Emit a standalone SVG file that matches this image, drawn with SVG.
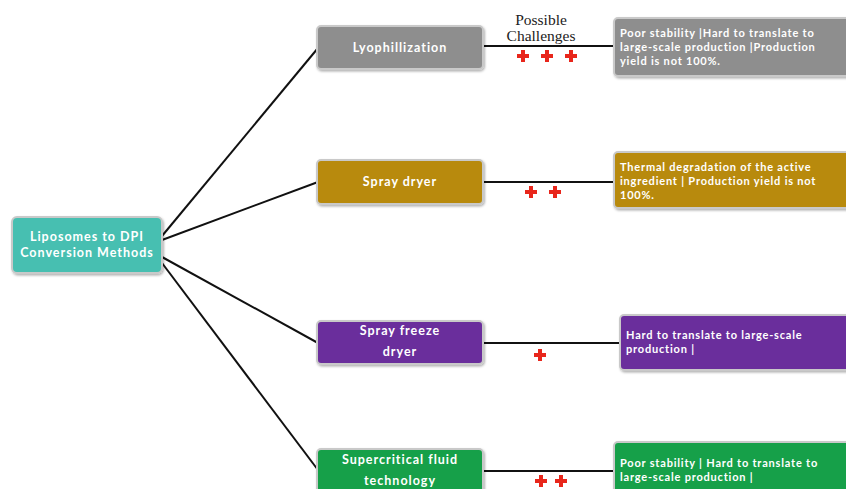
<svg xmlns="http://www.w3.org/2000/svg" width="846" height="489" viewBox="0 0 846 489">
<defs>
<style>
.box{stroke:#c9c9c9;stroke-width:2}
.t{font-family:"Lato","Open Sans",sans-serif;font-weight:bold;fill:#fff;font-size:12.5px;letter-spacing:1px;text-anchor:middle}
.d{font-family:"Lato","Open Sans",sans-serif;font-weight:bold;fill:#fff;font-size:11px;letter-spacing:0.8px}
.c{stroke:#111;stroke-width:2;fill:none}
.s{font-family:"Liberation Serif",serif;font-size:15.5px;fill:#222;text-anchor:middle}
</style>
<filter id="sh" x="-10%" y="-10%" width="120%" height="130%"><feDropShadow dx="1" dy="1.5" stdDeviation="1" flood-opacity="0.3"/></filter>
<path id="plus" d="M-2,-6h4v4h4v4h-4v4h-4v-4h-4v-4h4z" fill="#e8261b"/>
</defs>
<rect width="846" height="489" fill="#fff"/>
<g id="connectors">
<line class="c" x1="162" y1="236" x2="318" y2="48"/>
<line class="c" x1="162" y1="240" x2="318" y2="182"/>
<line class="c" x1="162" y1="257" x2="318" y2="343"/>
<line class="c" x1="162" y1="263" x2="318" y2="470"/>
<line class="c" x1="483" y1="46" x2="615" y2="46"/>
<line class="c" x1="483" y1="182" x2="615" y2="182"/>
<line class="c" x1="483" y1="343" x2="621" y2="343"/>
<line class="c" x1="483" y1="471" x2="615" y2="471"/>
<text class="s" x="541" y="25">Possible</text>
<text class="s" x="541" y="41">Challenges</text>
<use href="#plus" x="523" y="56"/><use href="#plus" x="547" y="56"/><use href="#plus" x="571" y="56"/>
<use href="#plus" x="531" y="192"/><use href="#plus" x="555" y="192"/>
<use href="#plus" x="540" y="355"/>
<use href="#plus" x="541" y="481"/><use href="#plus" x="561" y="481"/>
</g>
<g id="root">
<rect class="box" x="12" y="217" width="150" height="56" rx="5" fill="#47bfb1" filter="url(#sh)"/>
<text class="t" x="87" y="241">Liposomes to DPI</text>
<text class="t" x="87" y="257">Conversion Methods</text>
</g>
<g id="lyo">
<rect class="box" x="317" y="26" width="166" height="43" rx="4" fill="#8e8e8e" filter="url(#sh)"/>
<text class="t" x="400" y="52">Lyophillization</text>
</g>
<g id="spray">
<rect class="box" x="317" y="160" width="166" height="44" rx="4" fill="#b88a0c" filter="url(#sh)"/>
<text class="t" x="400" y="186">Spray dryer</text>
</g>
<g id="sfd">
<rect class="box" x="317" y="321" width="166" height="43" rx="4" fill="#6b2f9c" filter="url(#sh)"/>
<text class="t" x="400" y="335">Spray freeze</text>
<text class="t" x="400" y="356">dryer</text>
</g>
<g id="scf">
<rect class="box" x="317" y="449" width="166" height="46" rx="4" fill="#18a04a" filter="url(#sh)"/>
<text class="t" x="400" y="464">Supercritical fluid</text>
<text class="t" x="400" y="485">technology</text>
</g>
<g id="ch1">
<rect class="box" x="614" y="18" width="240" height="58" rx="4" fill="#8e8e8e" filter="url(#sh)"/>
<text class="d" x="620" y="37">Poor stability |Hard to translate to</text>
<text class="d" x="620" y="51">large-scale production |Production</text>
<text class="d" x="620" y="65">yield is not 100%.</text>
</g>
<g id="ch2">
<rect class="box" x="614" y="152" width="240" height="56" rx="4" fill="#b88a0c" filter="url(#sh)"/>
<text class="d" x="620" y="171">Thermal degradation of the active</text>
<text class="d" x="620" y="185">ingredient | Production yield is not</text>
<text class="d" x="620" y="199">100%.</text>
</g>
<g id="ch3">
<rect class="box" x="620" y="315" width="234" height="55" rx="4" fill="#6b2f9c" filter="url(#sh)"/>
<text class="d" x="626" y="339">Hard to translate to large-scale</text>
<text class="d" x="626" y="353">production |</text>
</g>
<g id="ch4">
<rect class="box" x="614" y="442" width="240" height="56" rx="4" fill="#18a04a" filter="url(#sh)"/>
<text class="d" x="620" y="467">Poor stability | Hard to translate to</text>
<text class="d" x="620" y="481">large-scale production |</text>
</g>
</svg>
